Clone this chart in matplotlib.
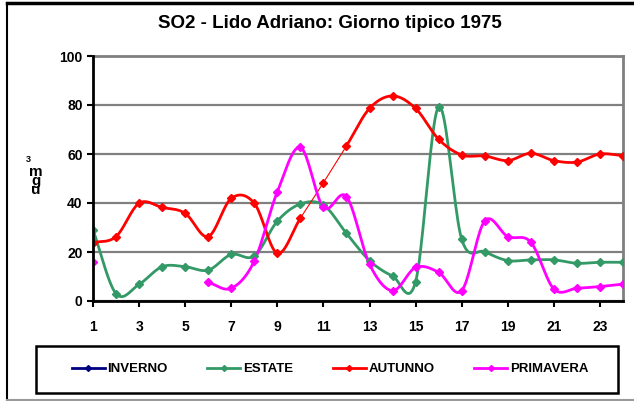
import numpy as np
import matplotlib
matplotlib.use("Agg")
import matplotlib.pyplot as plt
from matplotlib.lines import Line2D
from matplotlib.patches import Rectangle

plt.rcParams['font.family'] = ['Liberation Sans', 'DejaVu Sans']

hours = list(range(1, 25))
estate = [29, 3, 6.8, 14, 14, 12.6, 19, 18.4, 32.6, 39.6, 39.2, 27.6,
          16.5, 10.2, 7.9, 79.3, 25.2, 20.1, 16.5, 16.8, 16.8, 15.4, 15.8, 15.8]
autunno = [23.8, 26.3, 39.9, 38.2, 35.8, 26.3, 41.9, 39.9, 19.5, 33.8, 48.3, 63.3,
           78.6, 83.7, 78.6, 66, 59.6, 59.2, 57.3, 60.3, 57.3, 56.7, 60, 59.3]
primavera = [15.8, None, None, None, None, 7.6, 5.2, 16.3, 44.6, 62.7, 38.2, 42.6,
             15, 4.2, 13.7, 11.7, 4.2, 32.7, 26.3, 24, 4.9, 5.2, 5.9, 6.9]

series_names = ["INVERNO", "ESTATE", "AUTUNNO", "PRIMAVERA"]
series_colors = ["#000080", "#339966", "#FF0000", "#FF00FF"]


def smooth(x, y, n=20):
    # excel-like smoothed line (catmull-rom through the points)
    x = np.asarray(x, float)
    y = np.asarray(y, float)
    if len(x) < 3:
        return x, y
    px = np.concatenate([[2 * x[0] - x[1]], x, [2 * x[-1] - x[-2]]])
    py = np.concatenate([[2 * y[0] - y[1]], y, [2 * y[-1] - y[-2]]])
    t = np.linspace(0, 1, n)
    xs, ys = [], []
    for i in range(1, len(px) - 2):
        for p, out in ((px, xs), (py, ys)):
            p0, p1, p2, p3 = p[i - 1], p[i], p[i + 1], p[i + 2]
            out.extend(0.5 * ((2 * p1) + (-p0 + p2) * t
                              + (2 * p0 - 5 * p1 + 4 * p2 - p3) * t ** 2
                              + (-p0 + 3 * p1 - 3 * p2 + p3) * t ** 3))
    return np.array(xs), np.array(ys)


def runs(x, y):
    seg_x, seg_y = [], []
    for a, b in zip(x, y):
        if b is None:
            if seg_x:
                yield seg_x, seg_y
            seg_x, seg_y = [], []
        else:
            seg_x.append(a)
            seg_y.append(b)
    if seg_x:
        yield seg_x, seg_y


fig = plt.figure(figsize=(6.34, 4.01), dpi=100)
ax = fig.add_axes([93 / 634, 1 - 301 / 401, 530 / 634, 245 / 401])

# figure frame
fig.add_artist(Line2D([7 / 634, 7 / 634], [0.002, 1 - 3 / 401], transform=fig.transFigure, color="black", lw=1.5))
fig.add_artist(Line2D([7 / 634, 1], [1 - 2.5 / 401] * 2, transform=fig.transFigure, color="black", lw=2.5))
fig.add_artist(Line2D([7 / 634, 1], [1 / 401] * 2, transform=fig.transFigure, color="#999999", lw=1.5))

lw = 2.0
ms = 4

# estate
sx, sy = smooth(hours, estate)
ax.plot(sx, sy, color=series_colors[1], lw=lw, zorder=3)
ax.plot(hours, estate, ls="none", marker="D", ms=ms, color=series_colors[1], zorder=4)

# autunno: thin straight part between 10 and 12
sx, sy = smooth(hours[:10], autunno[:10])
ax.plot(sx, sy, color=series_colors[2], lw=lw, zorder=3)
ax.plot(hours[9:12], autunno[9:12], color=series_colors[2], lw=0.8, zorder=3)
sx, sy = smooth(hours[11:], autunno[11:])
ax.plot(sx, sy, color=series_colors[2], lw=lw, zorder=3)
ax.plot(hours, autunno, ls="none", marker="D", ms=ms, color=series_colors[2], zorder=4)

# primavera
for rx, ry in runs(hours, primavera):
    sx, sy = smooth(rx, ry)
    ax.plot(sx, sy, color=series_colors[3], lw=lw, zorder=3)
    ax.plot(rx, ry, ls="none", marker="D", ms=ms, color=series_colors[3], zorder=4)

ax.set_xlim(1, 24)
ax.set_ylim(0, 100)
ax.set_yticks(range(0, 101, 20))
ax.set_xticks(range(1, 24, 2))
ax.grid(axis="y", color="#808080", lw=1.6, zorder=1)
ax.set_axisbelow(True)
for s in ("top", "right"):
    ax.spines[s].set_color("#808080")
    ax.spines[s].set_linewidth(2)
for s in ("left", "bottom"):
    ax.spines[s].set_color("black")
    ax.spines[s].set_linewidth(2)
    ax.spines[s].set_zorder(5)
ax.tick_params(axis="both", direction="out", length=4, width=1.5, labelsize=10)
ax.tick_params(axis="x", pad=10)
for lab in ax.get_xticklabels() + ax.get_yticklabels():
    lab.set_fontweight("bold")

fig.text(0.52, 1 - 24 / 401, "SO2 - Lido Adriano: Giorno tipico 1975",
         ha="center", va="center", fontsize=13.5, fontweight="bold")

# stacked unit label
fig.text(28 / 634, 1 - 160 / 401, "3", ha="center", va="center", fontsize=6.5, fontweight="bold")
fig.text(36 / 634, 1 - 181 / 401, "m\ng\nu", ha="center", va="center",
         fontsize=11, linespacing=0.55, fontweight="bold")

# legend box
fig.add_artist(Rectangle((36 / 634, 1 - 393 / 401), 582 / 634, 47 / 401,
                         transform=fig.transFigure, fill=False, edgecolor="black", lw=1.8))
handles = [Line2D([], [], color=c, lw=2, marker="D", ms=3) for c in series_colors]
leg = fig.legend(handles, series_names, loc="center", ncol=4,
                 bbox_to_anchor=(330 / 634, 1 - 369 / 401), frameon=False,
                 handlelength=2.5, handletextpad=0.2, columnspacing=3.0,
                 borderaxespad=0, prop={"weight": "bold", "size": 9.5})

fig.savefig("out.png", dpi=100)
